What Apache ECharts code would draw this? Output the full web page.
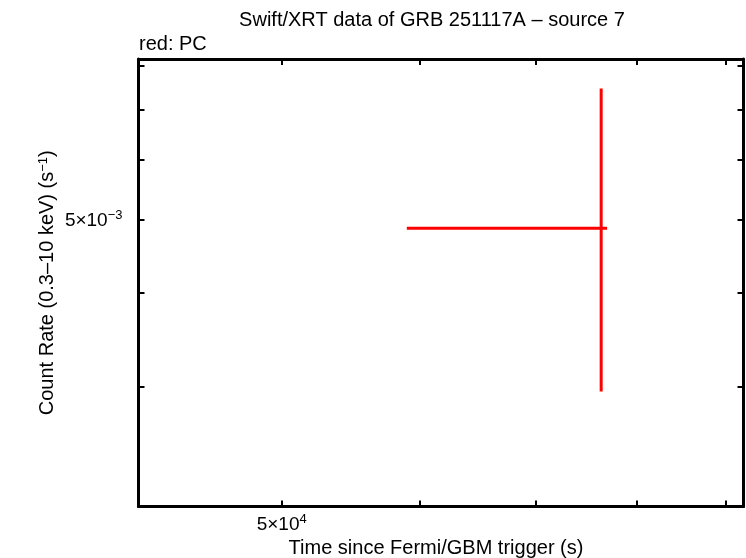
<!DOCTYPE html>
<html>
<head>
<meta charset="utf-8">
<script src="https://cdn.jsdelivr.net/npm/echarts@6/dist/echarts.min.js"></script>
<style>
  html, body { margin: 0; padding: 0; background: #fff; }
  #main { width: 746px; height: 558px; }
</style>
</head>
<body>
<div id="main"></div>
<script>
  // one PC bin
  var timeMid = [76300];
  var timeStart = [59000];
  var timeEnd = [76900];
  var rate = [4.87e-3];
  var rateLo = [2.96e-3];
  var rateHi = [7.46e-3];

  // axis ranges and ticks (log10 scale)
  var xRange = [41370, 92110];
  var yRange = [2.084e-3, 8.16e-3];
  var xTicks = [5e4, 6e4, 7e4, 8e4, 9e4];
  var xLabels = [5e4];
  var yTicks = [3e-3, 4e-3, 5e-3, 6e-3, 7e-3, 8e-3];
  var yLabels = [5e-3];

  var lg = Math.log10;
  var font = '"Liberation Sans", Arial, Helvetica, sans-serif';

  function sci(v) {
    var e = Math.floor(lg(v) + 1e-9);
    var m = Math.round(v / Math.pow(10, e));
    var ex = e < 0 ? '\u2212' + (-e) : '' + e;
    return '{a|' + m + '\u00d710}{b|' + ex + '}';
  }
  function findLabel(val, list) {
    for (var i = 0; i < list.length; i++) {
      if (Math.abs(lg(list[i]) - val) < 1e-6) return sci(list[i]);
    }
    return '';
  }

  var rich = {
    a: { fontSize: 19, fontFamily: font, color: '#000', lineHeight: 22, verticalAlign: 'bottom' },
    b: { fontSize: 13, fontFamily: font, color: '#000', lineHeight: 22, verticalAlign: 'top', padding: [0, 0, 8, 0] }
  };

  var myChart = echarts.init(document.getElementById('main'));

  var hBars = [], vBars = [];
  for (var i = 0; i < timeMid.length; i++) {
    hBars.push([lg(timeStart[i]), lg(rate[i])], [lg(timeEnd[i]), lg(rate[i])], null);
    vBars.push([lg(timeMid[i]), lg(rateLo[i])], [lg(timeMid[i]), lg(rateHi[i])], null);
  }

  function xAxisCfg(pos, showLabel) {
    return {
      type: 'value',
      position: pos,
      min: lg(xRange[0]),
      max: lg(xRange[1]),
      splitLine: { show: false },
      axisLine: { show: true, lineStyle: { color: '#000', width: 3 } },
      axisTick: { show: true, inside: true, length: 6, lineStyle: { color: '#000', width: 2 },
                  customValues: xTicks.map(lg) },
      axisLabel: { show: showLabel, margin: 6, customValues: xLabels.map(lg),
                   formatter: function (v) { return findLabel(v, xLabels); }, rich: rich }
    };
  }
  function yAxisCfg(pos, showLabel) {
    return {
      type: 'value',
      position: pos,
      min: lg(yRange[0]),
      max: lg(yRange[1]),
      splitLine: { show: false },
      axisLine: { show: true, lineStyle: { color: '#000', width: 3 } },
      axisTick: { show: true, inside: true, length: 6, lineStyle: { color: '#000', width: 2 },
                  customValues: yTicks.map(lg) },
      axisLabel: { show: showLabel, margin: 16, customValues: yLabels.map(lg),
                   formatter: function (v) { return findLabel(v, yLabels); }, rich: rich }
    };
  }

  var xBottom = xAxisCfg('bottom', true);
  xBottom.name = 'Time since Fermi/GBM trigger (s)';
  xBottom.nameLocation = 'middle';
  xBottom.nameGap = 32;
  xBottom.nameMoveOverlap = false;
  xBottom.nameTextStyle = { fontSize: 20, fontFamily: font, color: '#000', padding: [0, 10, 0, 0] };

  var yLeft = yAxisCfg('left', true);
  yLeft.name = 'Count Rate (0.3\u201310 keV) (s{sup|\u22121})';
  yLeft.nameLocation = 'middle';
  yLeft.nameGap = 81;
  yLeft.nameMoveOverlap = false;
  yLeft.nameTextStyle = {
    fontSize: 20, fontFamily: font, color: '#000',
    rich: { sup: { fontSize: 13, fontFamily: font, color: '#000', verticalAlign: 'top', padding: [0, 0, 8, 0] } }
  };

  var option = {
    animation: false,
    backgroundColor: '#fff',
    title: [
      {
        text: 'Swift/XRT data of GRB 251117A \u2013 source 7',
        left: 427, top: 5, textAlign: 'center',
        textStyle: { fontSize: 20, fontWeight: 'normal', fontFamily: font, color: '#000' }
      },
      {
        text: 'red: PC',
        left: 134, top: 29,
        textStyle: { fontSize: 20, fontWeight: 'normal', fontFamily: font, color: '#000' }
      }
    ],
    grid: { left: 138.5, right: 2.5, top: 59, bottom: 51.5, containLabel: false, outerBoundsMode: 'none' },
    xAxis: [xBottom, xAxisCfg('top', false)],
    yAxis: [yLeft, yAxisCfg('right', false)],
    series: [
      {
        type: 'line', data: hBars, symbol: 'none', connectNulls: false,
        lineStyle: { color: '#ff0000', width: 3 }, silent: true
      },
      {
        type: 'line', data: vBars, symbol: 'none', connectNulls: false,
        lineStyle: { color: '#ff0000', width: 3 }, silent: true
      }
    ]
  };
  myChart.setOption(option);
</script>
</body>
</html>
